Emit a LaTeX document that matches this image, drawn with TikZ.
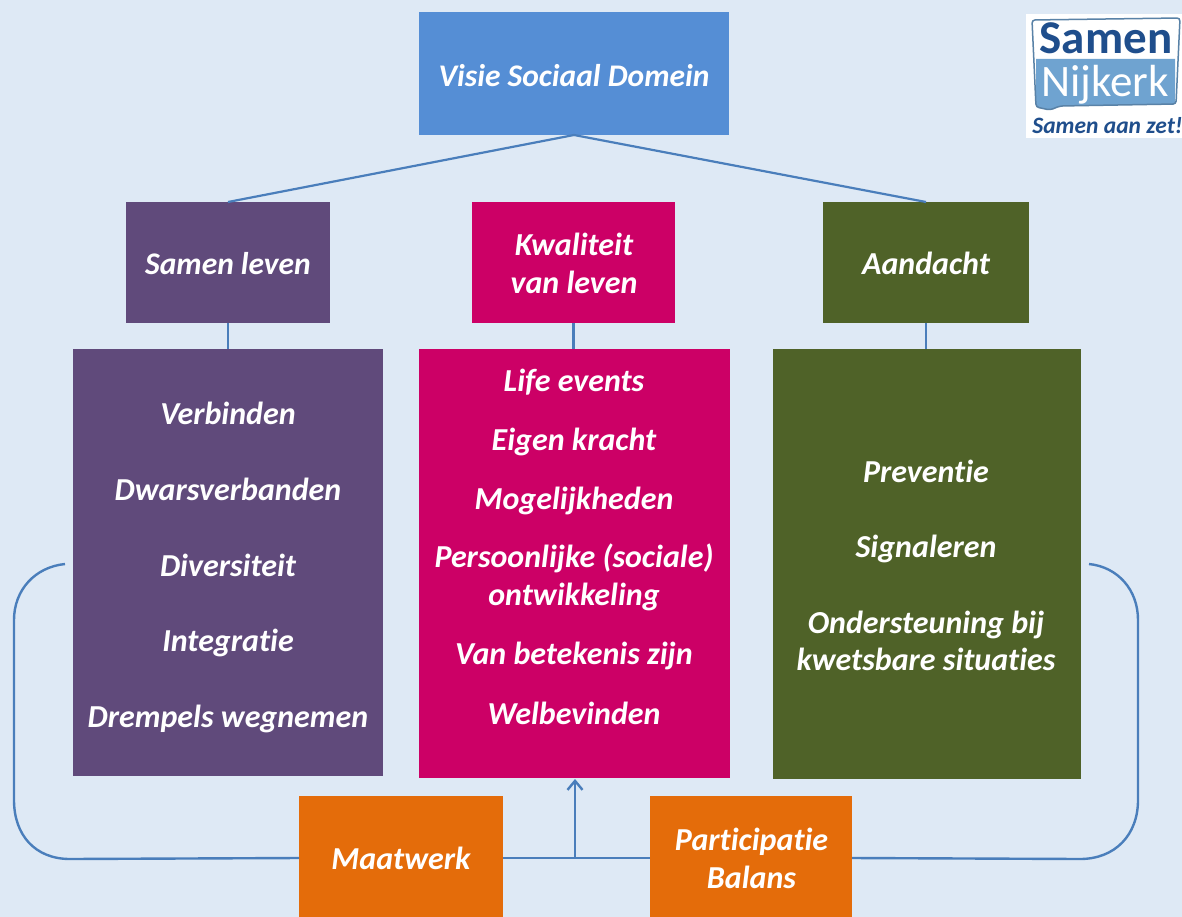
\documentclass[tikz,border=0pt]{standalone}
\usepackage{fontspec}
\setmainfont{Carlito}[Ligatures=CommonOff]
\usetikzlibrary{arrows.meta}
\definecolor{bg}{HTML}{DEE9F5}
\definecolor{topblue}{HTML}{558ED5}
\definecolor{purp}{HTML}{604A7B}
\definecolor{mag}{HTML}{CC0066}
\definecolor{grn}{HTML}{4F6228}
\definecolor{orng}{HTML}{E46C0A}
\definecolor{conn}{HTML}{4A7EBB}
\definecolor{logoblue}{HTML}{1F4E8C}
\definecolor{logolight}{HTML}{6FA3D0}
\tikzset{
  x=1pt,y=-1pt,
  boxbase/.style={inner sep=0pt,outer sep=0pt,text=white,align=center,
    font=\fontsize{32}{37.5}\selectfont\bfseries\itshape},
  basetext/.style={boxbase,anchor=base},
  link/.style={draw=conn,line width=2.4pt},
  thinlink/.style={draw=conn,line width=2.2pt},
}
\newcommand{\bx}[6]{% name, x0,y0,x1,y1,colour
  \path[fill=#6] (#2,#3) rectangle (#4,#5);
  \node[inner sep=0pt,outer sep=0pt,minimum width=#4pt-#2pt,minimum height=#5pt-#3pt] (#1) at ({(#2+#4)/2},{(#3+#5)/2}) {};
}
\begin{document}
\begin{tikzpicture}
\useasboundingbox[fill=bg] (0,0) rectangle (1182,917);
\bx{visie}{419}{12}{729}{135}{topblue}
\bx{samen}{126}{202}{330}{323}{purp}
\bx{kwal}{472}{202}{675}{323}{mag}
\bx{aand}{823}{202}{1029}{323}{grn}
\bx{lp}{73}{349}{383}{776}{purp}
\bx{lm}{419}{349}{730}{778}{mag}
\bx{lg}{773}{349}{1081}{779}{grn}
\node[basetext,font=\fontsize{31.5}{37.5}\selectfont\bfseries\itshape] (visiet) at (574,86.5) {Visie Sociaal Domein};
\node[basetext,font=\fontsize{31.5}{37.5}\selectfont\bfseries\itshape] (samt) at (228,274) {Samen leven};
\node[basetext] (kw1) at (574,255) {Kwaliteit};
\node[basetext] (kw2) at (574,293) {van leven};
\node[basetext] (aant) at (926,274) {Aandacht};
\node[basetext] (lp1) at (228,424.5) {Verbinden};
\node[basetext] (lp2) at (228,500) {Dwarsverbanden};
\node[basetext] (lp3) at (228,576) {Diversiteit};
\node[basetext] (lp4) at (228,651.5) {Integratie};
\node[basetext] (lp5) at (228,727) {Drempels wegnemen};
\node[basetext] (lm1) at (574,391) {Life events};
\node[basetext] (lm2) at (574,450) {Eigen kracht};
\node[basetext] (lm3) at (574,509) {Mogelijkheden};
\node[basetext] (lm4) at (574,567) {Persoonlijke (sociale)};
\node[basetext] (lm4b) at (574,605) {ontwikkeling};
\node[basetext] (lm5) at (574,664) {Van betekenis zijn};
\node[basetext] (lm6) at (574,724) {Welbevinden};
\node[basetext] (lg1) at (926,482) {Preventie};
\node[basetext] (lg2) at (926,557.5) {Signaleren};
\node[basetext] (lg3) at (926,633) {Ondersteuning bij};
\node[basetext] (lg3b) at (926,670) {kwetsbare situaties};
\draw[thinlink] (visie.south) -- (samen.north);
\draw[thinlink] (visie.south) -- (aand.north);
\draw[thinlink] (samen.south) -- (samen.south |- lp.north);
\draw[thinlink] (kwal.south) -- (kwal.south |- lm.north);
\draw[thinlink] (aand.south) -- (aand.south |- lg.north);
\coordinate (ls) at (65,564);
\coordinate (rs) at (1089,564);
\coordinate (jn) at (575,858);
\coordinate (ar) at (575,779);
\bx{maat}{299}{796}{503}{917}{orng}
\bx{part}{650}{796}{852}{917}{orng}
\node[basetext] (maatt) at (401,869) {Maatwerk};
\node[basetext] (part1) at (751.5,850) {Participatie};
\node[basetext] (part2) at (751.5,888) {Balans};
\draw[link] (ls) .. controls (35,567) and (14,590) .. (14,620) -- (14,800) .. controls (14,835) and (35,859) .. (70,859) -- (maat.west |- jn);
\draw[link] (maat.east |- jn) -- (part.west |- jn);
\draw[link] (part.east |- jn) -- (1080,859) .. controls (1115,859) and (1138,835) .. (1138,800) -- (1138,620) .. controls (1138,590) and (1118,567) .. (rs);
\draw[link,-{Straight Barb[length=9pt,width=15pt]}] (jn) -- (ar);
% logo
\path[fill=white] (1026,14) rectangle (1182,138);
\path[fill=logolight] (1036,59) -- (1175,59) -- (1175,104) -- (1060,106) -- (1050,110) -- (1036,107) -- cycle;
\draw[logolight!80!black,line width=1.5pt,rounded corners=3pt] (1036,107) -- (1032,20) -- (1180,18) -- (1176,104) -- (1060,106) -- (1050,110) -- cycle;
\node[inner sep=0pt,text=logoblue,anchor=base,font=\fontsize{47}{47}\selectfont\bfseries] (logoa) at (1106,54) {Samen};
\node[inner sep=0pt,text=white,anchor=base,font=\fontsize{45}{45}\selectfont] (logob) at (1105,97) {Nijkerk};
\node[inner sep=0pt,text=logoblue,anchor=base,font=\fontsize{23.5}{23.5}\selectfont\bfseries\itshape] (logoc) at (1107.5,134) {Samen aan zet!};
\end{tikzpicture}
\end{document}
